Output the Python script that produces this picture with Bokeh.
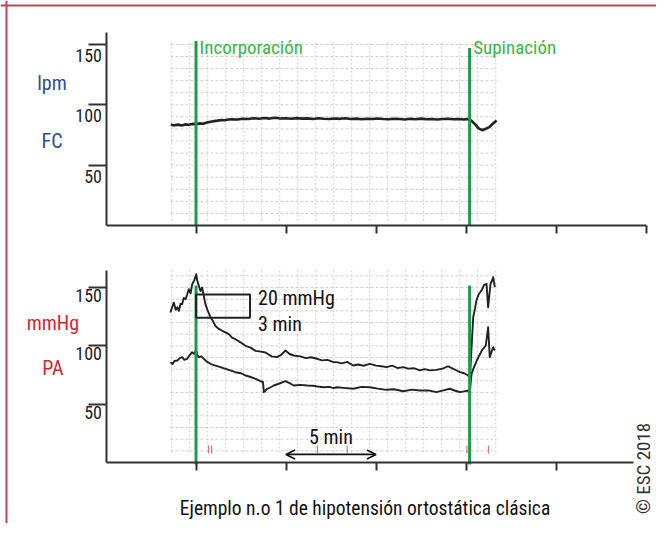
import numpy as np
from bokeh.plotting import figure
from bokeh.models import Range1d, LinearAxis, FixedTicker, Arrow, OpenHead, Span
from bokeh.core.properties import value
from bokeh.embed import file_html
from bokeh.resources import INLINE

FONT = "Roboto Condensed, Liberation Sans Narrow, DejaVu Sans Condensed, Roboto"

# ---------------- data ----------------
time_ticks = [0, 5, 10, 15, 20, 25]
y_ticks = [50, 100, 150]
y_tick_labels = ["50", "100", "150"]
event_names = ["Incorporación", "Supinación"]
event_times = [0.0, 15.2]

# heart rate (lpm) vs minutes
hr_t = [-1.4, -1.2, -1.0, -0.8, -0.6, -0.4, -0.2, 0.0, 0.2, 0.4,
        0.6, 0.8, 1.0, 1.2, 1.4, 1.6, 1.8, 2.0,
        2.3, 2.6, 2.9, 3.2, 3.5, 3.8, 4.1, 4.4, 4.7, 5.0,
        5.3, 5.6, 5.9, 6.2, 6.5, 6.8, 7.1, 7.4, 7.7, 8.0,
        8.3, 8.6, 8.9, 9.2, 9.5, 9.8, 10.1, 10.4, 10.7, 11.0,
        11.3, 11.6, 11.9, 12.2, 12.5, 12.8, 13.1, 13.4, 13.7, 14.0,
        14.3, 14.6, 14.9,
        15.1, 15.3, 15.5, 15.7, 15.9, 16.1, 16.3, 16.5, 16.7]
hr_v = [83.5, 83.0, 83.6, 82.9, 83.8, 83.4, 84.2, 84.0, 84.6, 84.3,
        85.4, 85.9, 86.5, 86.9, 87.4, 87.2, 87.9, 88.1,
        87.8, 88.5, 88.2, 88.9, 88.4, 89.1, 88.6, 89.3, 88.7, 88.9,
        88.5, 89.0, 88.6, 88.8, 88.3, 88.9, 88.5, 88.2, 88.7, 88.4,
        88.9, 88.3, 88.6, 88.1, 88.5, 88.2, 88.7, 88.3, 88.0, 88.5,
        88.2, 87.9, 88.4, 88.1, 88.6, 88.0, 88.3, 87.8, 88.2, 88.5,
        88.0, 88.3, 87.9,
        88.2, 86.8, 84.0, 80.5, 79.0, 80.2, 81.5, 84.5, 87.0]

# systolic pressure (mmHg)
sys_t = [-1.42, -1.33, -1.23, -1.13, -1.04, -0.95, -0.86, -0.77, -0.68, -0.58,
         -0.49, -0.40, -0.30, -0.21, -0.10, 0.01, 0.08, 0.16, 0.25, 0.34,
         0.43, 0.52, 0.62, 0.71, 0.81, 0.95, 1.08, 1.27, 1.46, 1.64,
         1.82, 2.0, 2.19, 2.47, 2.75, 3.03, 3.31, 3.6, 3.86, 4.2,
         4.5, 4.75, 4.97, 5.2, 5.43, 5.8, 6.1, 6.4, 6.73, 7.0,
         7.3, 7.64, 7.81, 8.1, 8.4, 8.73, 9.0, 9.3, 9.66, 10.0,
         10.3, 10.58, 10.9, 11.2, 11.51, 11.8, 12.1, 12.43, 12.7, 13.0,
         13.36, 13.7, 14.0, 14.1, 14.4, 14.66, 14.9, 15.12, 15.22, 15.31,
         15.4, 15.5, 15.58, 15.7, 15.86, 16.0, 16.14, 16.23, 16.36, 16.45,
         16.51, 16.6]
sys_v = [128.6, 133, 137, 131, 133, 130, 136, 135.7, 141, 140,
         144, 148.6, 145, 152.8, 156, 161.4, 155, 151.4, 147, 150,
         142.9, 136, 131.4, 128, 124.3, 121, 117, 114.5, 112.9, 111.5,
         110, 107, 105.7, 103, 100, 98.5, 95.7, 95, 94.3, 91,
         90.3, 92.5, 96, 93, 91.7, 91, 89.5, 90.2, 88.9, 87.5,
         88, 86, 86, 85, 86.2, 83.1, 84, 82.9, 84.6, 83,
         82.5, 81.7, 83, 81, 81.7, 80.5, 80.8, 78.9, 80, 79,
         79.4, 80.5, 82.5, 81.7, 79.5, 77.4, 76.5, 74.6, 73, 98.8,
         124.5, 132, 138.9, 144, 147.4, 152, 153.2, 133, 153, 156,
         158.8, 150.3]

# diastolic pressure (mmHg)
dia_t = [-1.42, -1.3, -1.2, -1.04, -0.9, -0.77, -0.65, -0.49, -0.35, -0.21,
         -0.1, 0.0, 0.08, 0.16, 0.3, 0.43, 0.6, 0.81, 1.0, 1.36,
         1.6, 1.9, 2.19, 2.5, 2.75, 3.0, 3.31, 3.58, 3.72, 3.77,
         3.96, 4.15, 4.32, 4.6, 4.97, 5.2, 5.43, 5.8, 6.17, 6.5,
         6.75, 7.1, 7.4, 7.66, 7.81, 8.2, 8.73, 9.2, 9.66, 10.1,
         10.58, 11.0, 11.51, 12.0, 12.43, 12.9, 13.36, 13.8, 14.1, 14.4,
         14.66, 14.9, 15.12, 15.2, 15.31, 15.45, 15.6, 15.75, 15.88, 16.1,
         16.23, 16.32, 16.42, 16.51, 16.6]
dia_v = [86, 84.5, 87, 87.4, 89.5, 90.3, 88, 88.9, 92, 94.6,
         93, 96.6, 92, 90.3, 91, 88.9, 86.5, 84.6, 83.5, 81.7,
         80.5, 79, 77.4, 76.5, 74.6, 73.5, 71.7, 69.7, 69, 60.3,
         63.2, 64.5, 66, 67.5, 69.7, 68, 66, 66.5, 66, 65.8,
         65.1, 64.5, 64.8, 63.7, 64.5, 64, 63.2, 64.8, 64.5, 63.3,
         62.3, 62.8, 61.1, 62.5, 61.7, 61.8, 60.3, 62, 63.2, 61.5,
         60.3, 61, 61.7, 58.9, 76, 82, 87.4, 92, 96, 100.3,
         116, 90.3, 95, 98.8, 96]

# red event marks on the recording paper (minutes)
mark_t = [0.7, 0.87, 6.75, 8.4, 15.05, 16.25]

# annotation box: 3 min x 20 mmHg
box_t = [0.0, 3.0]
box_p = [124, 144]
box_texts = ["20 mmHg", "3 min"]
box_text_y = [141.4, 119]

# 5-min scale bar
bar_t = [5.0, 10.0]
bar_y = 6.9

title_text = "Ejemplo n.o 1 de hipotensión ortostática clásica"

# ---------------- figure ----------------
W, H = 656, 523
PX_MIN = 18.0            # px per minute
PX_HR = 181.0 / 150.0    # px per lpm
PX_BP = 175.0 / 150.0    # px per mmHg
XMIN = -195.5 / PX_MIN
XMAX = XMIN + W / PX_MIN
HR_MAX = 225.0 / PX_HR
HR_MIN = HR_MAX - H / PX_HR
BP_MAX = 462.0 / PX_BP
BP_MIN = BP_MAX - H / PX_BP

p = figure(width=W, height=H, x_range=Range1d(XMIN, XMAX),
           y_range=Range1d(HR_MIN, HR_MAX),
           x_axis_location=None, y_axis_location=None,
           toolbar_location=None, output_backend="svg",
           min_border=0, outline_line_color=None)
p.extra_y_ranges = {"bp": Range1d(BP_MIN, BP_MAX)}
p.grid.visible = False
p.background_fill_color = "white"

# paper grid
grid_x = np.arange(-1.35, 16.7, 1.0)
paper_t = (-1.42, 16.7)
hr_paper = (4, 151.6)
bp_paper = (8.6, 167)
grid_hr_y = np.arange(10, 151, 10)
grid_bp_y = np.arange(10, 166, 10)
gcol = "#cdcdcd"
p.segment(x0=grid_x, y0=hr_paper[0], x1=grid_x, y1=hr_paper[1],
          line_color=gcol, line_dash="2 2", line_width=1)
p.segment(x0=paper_t[0], y0=grid_hr_y, x1=paper_t[1], y1=grid_hr_y,
          line_color=gcol, line_dash="3 2", line_width=1)
p.segment(x0=grid_x, y0=bp_paper[0], x1=grid_x, y1=bp_paper[1],
          line_color=gcol, line_dash="2 2", line_width=1, y_range_name="bp")
p.segment(x0=paper_t[0], y0=grid_bp_y, x1=paper_t[1], y1=grid_bp_y,
          line_color="#dcc8cb", line_dash="3 2", line_width=1, y_range_name="bp")

# red marks
p.segment(x0=mark_t, y0=7.7, x1=mark_t, y1=14.6, line_color="#e8707c",
          line_width=1.2, y_range_name="bp")

# axes (ticks as unlabeled minor ticks of the library axis)
def make_axis(tick_values, tick_out, **kw):
    ax = LinearAxis(ticker=FixedTicker(ticks=[], minor_ticks=tick_values), **kw)
    ax.axis_line_width = 2
    ax.axis_line_color = "#333333"
    ax.major_tick_line_color = None
    ax.minor_tick_line_width = 2
    ax.minor_tick_line_color = "#333333"
    ax.minor_tick_out = tick_out
    ax.minor_tick_in = 0
    return ax

p.add_layout(make_axis(y_ticks, 18, fixed_location=-5, bounds=(0, 160)), "left")
p.add_layout(make_axis(y_ticks, 18, y_range_name="bp", fixed_location=-5,
                       bounds=(0, 164.6)), "left")
p.add_layout(make_axis(time_ticks, 8, fixed_location=0, bounds=(-5, 25)), "below")
p.add_layout(make_axis(time_ticks[:-1], 8, y_range_name="bp", fixed_location=0,
                       bounds=(-5, 24.3)), "below")

# y tick labels (drawn below the tick marks)
tick_x = [-5] * len(y_ticks)
p.text(x=tick_x, y=y_ticks, text=y_tick_labels, x_offset=-4, y_offset=11,
       text_align="right", text_baseline="middle", text_font=value(FONT),
       text_font_size="18px", text_color="#222222")
p.text(x=tick_x, y=y_ticks, text=y_tick_labels, x_offset=-4, y_offset=8,
       text_align="right", text_baseline="middle", text_font=value(FONT),
       text_font_size="18px", text_color="#222222", y_range_name="bp")

# traces
p.line(hr_t, hr_v, line_color="#222222", line_width=2.6, line_join="round")
p.line(sys_t, sys_v, line_color="#222222", line_width=1.9, line_join="round", y_range_name="bp")
p.line(dia_t, dia_v, line_color="#222222", line_width=1.9, line_join="round", y_range_name="bp")

# event lines
green = "#1f9a48"
p.segment(x0=event_times, y0=0, x1=event_times, y1=[153, 147], line_color=green, line_width=3)
p.segment(x0=event_times, y0=-1.7, x1=event_times, y1=151.7, line_color=green,
          line_width=3, y_range_name="bp")
p.text(x=[t + 0.2 for t in event_times], y=147.5, text=event_names,
       text_align="left", text_baseline="middle", text_font=value(FONT),
       text_font_size="19px", text_color="#3db54a")

# box annotation
p.quad(left=box_t[0], right=box_t[1], bottom=box_p[0], top=box_p[1],
       fill_color=None, line_color="#222222", line_width=2, y_range_name="bp")
p.text(x=3.45, y=box_text_y, text=box_texts, text_align="left", text_baseline="middle",
       text_font=value(FONT), text_font_size="20px", text_color="#111111",
       y_range_name="bp")

# 5 min bar
arrow = Arrow(start=OpenHead(size=9, line_width=1.8, line_color="#111111"),
              end=OpenHead(size=9, line_width=1.8, line_color="#111111"),
              x_start=bar_t[0], x_end=bar_t[1], y_start=bar_y, y_end=bar_y,
              line_width=1.8, line_color="#111111", y_range_name="bp")
p.add_layout(arrow)
p.text(x=[(bar_t[0] + bar_t[1]) / 2], y=[bar_y], text=["5 min"], y_offset=-5,
       text_align="center", text_baseline="bottom", text_font=value(FONT),
       text_font_size="20px", text_color="#111111", y_range_name="bp")

# side labels
p.text(x=[-8.0, -8.0], y=[118.5, 70.4], text=["lpm", "FC"], text_align="center",
       text_baseline="middle", text_font=value(FONT), text_font_size="20px",
       text_color="#2f4a9a")
p.text(x=[-7.95, -7.95], y=[120, 80.6], text=["mmHg", "PA"], text_align="center",
       text_baseline="middle", text_font=value(FONT), text_font_size="20px",
       text_color="#d9232e", y_range_name="bp")

# title & copyright
p.text(x=[9.39], y=[-39.4], text=[title_text], text_align="center", text_baseline="middle",
       text_font=value(FONT), text_font_size="19.5px", text_color="#111111", y_range_name="bp")
p.text(x=[24.85], y=[-5.1], text=["© ESC 2018"], angle=np.pi / 2, text_align="center",
       text_baseline="middle", text_font=value(FONT), text_font_size="19px",
       text_color="#333333", y_range_name="bp")

# frame border (left & top)
p.add_layout(Span(location=XMIN + 6.0 / PX_MIN, dimension="height",
                  line_color="#b8485c", line_width=2))
p.add_layout(Span(location=HR_MAX - 5.0 / PX_HR, dimension="width",
                  line_color="#b8485c", line_width=2))

open("out.html", "w").write(file_html(p, INLINE))
